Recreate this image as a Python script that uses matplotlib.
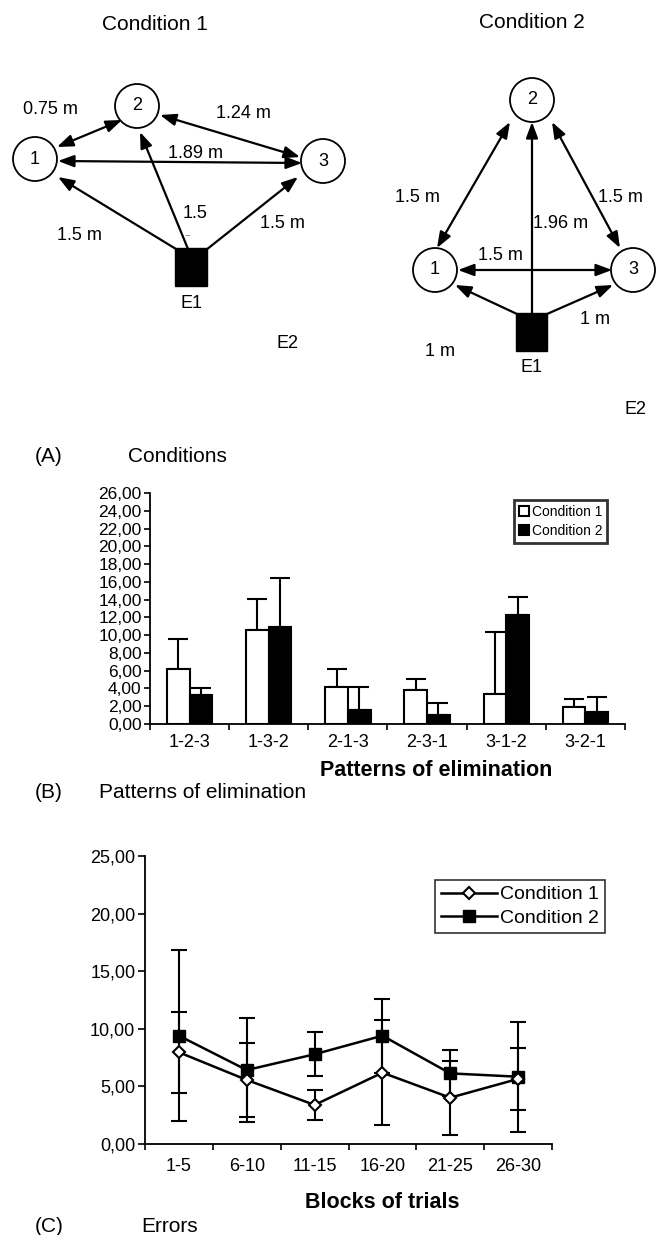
import matplotlib
matplotlib.use("Agg")
import matplotlib.pyplot as plt
import numpy as np
from matplotlib.patches import Circle, Rectangle
from matplotlib.ticker import FuncFormatter, FixedLocator

plt.rcParams['font.family'] = ['Liberation Sans', 'DejaVu Sans']

# ---------------- data ----------------
patterns = ["1-2-3", "1-3-2", "2-1-3", "2-3-1", "3-1-2", "3-2-1"]
bar_c1 = [6.23, 10.62, 4.20, 3.86, 3.41, 1.88]
bar_c1_err = [3.30, 3.41, 2.03, 1.24, 6.91, 0.97]
bar_c2 = [3.23, 10.92, 1.61, 1.05, 12.23, 1.39]
bar_c2_err = [0.78, 5.51, 2.56, 1.31, 2.03, 1.61]
bar_yticks = list(range(0, 27, 2))

blocks = ["1-5", "6-10", "11-15", "16-20", "21-25", "26-30"]
line_c1 = [7.96, 5.56, 3.39, 6.19, 4.02, 5.65]
line_c1_err = [3.50, 3.20, 1.33, 4.56, 3.21, 2.70]
line_c2 = [9.40, 6.42, 7.79, 9.40, 6.13, 5.84]
line_c2_err = [7.43, 4.55, 1.93, 3.22, 2.00, 4.76]
line_yticks = [0, 5, 10, 15, 20, 25]

series_names = ["Condition 1", "Condition 2"]

W, H = 663, 1235
fig = plt.figure(figsize=(W / 100, H / 100), dpi=100)

# ---------------- diagram / text layer (pixel coordinates) ----------------
ax0 = fig.add_axes([0, 0, 1, 1])
ax0.set_xlim(0, W)
ax0.set_ylim(H, 0)
ax0.axis("off")
ax0.patch.set_visible(False)

def node(x, y, label, r=22):
    ax0.add_patch(Circle((x, y), r, facecolor="white", edgecolor="black", lw=1.3, zorder=3))
    ax0.text(x, y, label, ha="center", va="center", fontsize=13, zorder=4)

def arrow(p0, p1, both=False):
    style = "<|-|>" if both else "-|>"
    ax0.annotate("", xy=p1, xytext=p0,
                 arrowprops=dict(arrowstyle=style + ",head_length=0.8,head_width=0.3",
                                 color="black", lw=1.6, shrinkA=0, shrinkB=0,
                                 mutation_scale=12), zorder=5)

def t(x, y, s, size=13, **kw):
    ax0.text(x, y, s, ha="center", va="center", fontsize=size, **kw)

# Condition 1
t(155, 24, "Condition 1", 15)
node(35, 159, "1")
node(137, 106, "2")
node(323, 161, "3")
ax0.add_patch(Rectangle((175, 248), 32, 38, facecolor="black", edgecolor="black", zorder=3))
arrow((57, 147), (122, 120), both=True)
arrow((160, 115), (300, 157), both=True)
arrow((58, 161), (302, 163), both=True)
arrow((176, 249), (58, 177))
arrow((188, 249), (140, 132))
arrow((206, 250), (298, 177))
t(50, 110, "0.75 m")
t(243, 113, "1.24 m")
t(195, 154, "1.89 m")
t(195, 213, "1.5")
t(188, 235, "--", 7, color="0.45")
t(79, 235, "1.5 m")
t(282, 224, "1.5 m")
t(191, 303, "E1")
t(287, 343, "E2")

# Condition 2
t(532, 22, "Condition 2", 15)
node(532, 100, "2")
node(435, 270, "1")
node(633, 270, "3")
ax0.add_patch(Rectangle((516, 313), 31, 38, facecolor="black", edgecolor="black", zorder=3))
arrow((510, 122), (437, 248), both=True)
arrow((552, 122), (620, 248), both=True)
arrow((458, 270), (612, 270), both=True)
arrow((532, 314), (532, 122))
arrow((517, 314), (455, 285))
arrow((547, 314), (613, 285))
t(417, 197, "1.5 m")
t(620, 197, "1.5 m")
t(561, 224, "1.96 m")
t(500, 255, "1.5 m")
t(595, 320, "1 m")
t(440, 352, "1 m")
t(532, 368, "E1")
t(635, 410, "E2")

# panel captions
t(49, 457, "(A)", 15)
t(177, 457, "Conditions", 15)
t(49, 793, "(B)", 15)
t(203, 793, "Patterns of elimination", 15)
t(49, 1227, "(C)", 15)
t(170, 1227, "Errors", 15)
t(436, 771, "Patterns of elimination", 15.5, fontweight="bold")
t(382, 1203, "Blocks of trials", 15.5, fontweight="bold")

fmt = FuncFormatter(lambda v, p: f"{v:.2f}".replace(".", ","))

def px_axes(l, r, top, bot):
    return fig.add_axes([l / W, 1 - bot / H, (r - l) / W, (bot - top) / H])

# ---------------- bar chart ----------------
axb = px_axes(150, 625, 493, 724)
x = np.arange(len(patterns))
bw = 0.287
axb.bar(x - bw / 2, bar_c1, bw, facecolor="white", edgecolor="black", lw=1.5,
        label=series_names[0], zorder=3)
axb.bar(x + bw / 2, bar_c2, bw, facecolor="black", edgecolor="black", lw=1.5,
        label=series_names[1], zorder=3)
axb.errorbar(x - bw / 2, bar_c1, yerr=[np.zeros(len(x)), bar_c1_err], fmt="none",
             ecolor="black", elinewidth=1.5, capsize=7.5, capthick=1.5, zorder=2)
axb.errorbar(x + bw / 2, bar_c2, yerr=[np.zeros(len(x)), bar_c2_err], fmt="none",
             ecolor="black", elinewidth=1.5, capsize=7.5, capthick=1.5, zorder=2)
axb.set_xlim(-0.5, 5.5)
axb.set_ylim(0, 26)
axb.set_yticks(bar_yticks)
axb.yaxis.set_major_formatter(fmt)
axb.xaxis.set_major_locator(FixedLocator(np.arange(-0.5, 6, 1)))
axb.xaxis.set_major_formatter(FuncFormatter(lambda v, p: ""))
axb.xaxis.set_minor_locator(FixedLocator(x))
axb.set_xticklabels(patterns, minor=True)
axb.tick_params(axis="x", which="minor", length=0, pad=7, labelsize=13)
axb.tick_params(axis="x", which="major", length=4, width=1.2)
axb.tick_params(axis="y", length=4, width=1.2, pad=2, labelsize=12.5)
for s in ["top", "right"]:
    axb.spines[s].set_visible(False)
for s in ["left", "bottom"]:
    axb.spines[s].set_linewidth(1.3)
lg = axb.legend(loc="upper right", bbox_to_anchor=(607 / W, 1 - 500 / H),
                bbox_transform=fig.transFigure, fontsize=10, frameon=True, fancybox=False,
                edgecolor="black", handlelength=0.7, handleheight=0.7, handletextpad=0.2,
                borderpad=0.35, labelspacing=0.35, borderaxespad=0)
lg.get_frame().set_linewidth(2)

# ---------------- line chart ----------------
axl = px_axes(145, 552, 856, 1144)
xl = np.arange(len(blocks))
axl.errorbar(xl, line_c1, yerr=line_c1_err, fmt="none", ecolor="black",
             elinewidth=1.5, capsize=6, capthick=1.5, zorder=2)
axl.errorbar(xl, line_c2, yerr=line_c2_err, fmt="none", ecolor="black",
             elinewidth=1.5, capsize=6, capthick=1.5, zorder=2)
axl.plot(xl, line_c1, color="black", lw=1.8, marker="D", markersize=6,
         markerfacecolor="white", markeredgecolor="black", markeredgewidth=1.5,
         label=series_names[0], zorder=4)
axl.plot(xl, line_c2, color="black", lw=1.8, marker="s", markersize=9,
         markerfacecolor="black", markeredgecolor="black",
         label=series_names[1], zorder=3)
axl.set_xlim(-0.5, 5.5)
axl.set_ylim(0, 25)
axl.set_yticks(line_yticks)
axl.yaxis.set_major_formatter(fmt)
axl.xaxis.set_major_locator(FixedLocator(np.arange(-0.5, 6, 1)))
axl.xaxis.set_major_formatter(FuncFormatter(lambda v, p: ""))
axl.xaxis.set_minor_locator(FixedLocator(xl))
axl.set_xticklabels(blocks, minor=True)
axl.tick_params(axis="x", which="minor", length=0, pad=10, labelsize=13)
axl.tick_params(axis="x", which="major", length=4, width=1.2)
axl.tick_params(axis="y", length=5, width=1.2, pad=2, labelsize=13)
for s in ["top", "right"]:
    axl.spines[s].set_visible(False)
for s in ["left", "bottom"]:
    axl.spines[s].set_linewidth(1.3)
lg2 = axl.legend(loc="upper right", bbox_to_anchor=(605 / W, 1 - 880 / H),
                 bbox_transform=fig.transFigure, fontsize=14, frameon=True, fancybox=False,
                 edgecolor="black", handlelength=2.9, handletextpad=0.15,
                 borderpad=0.3, labelspacing=0.3, borderaxespad=0)
lg2.get_frame().set_linewidth(1.2)

fig.savefig("out.png", dpi=100)
